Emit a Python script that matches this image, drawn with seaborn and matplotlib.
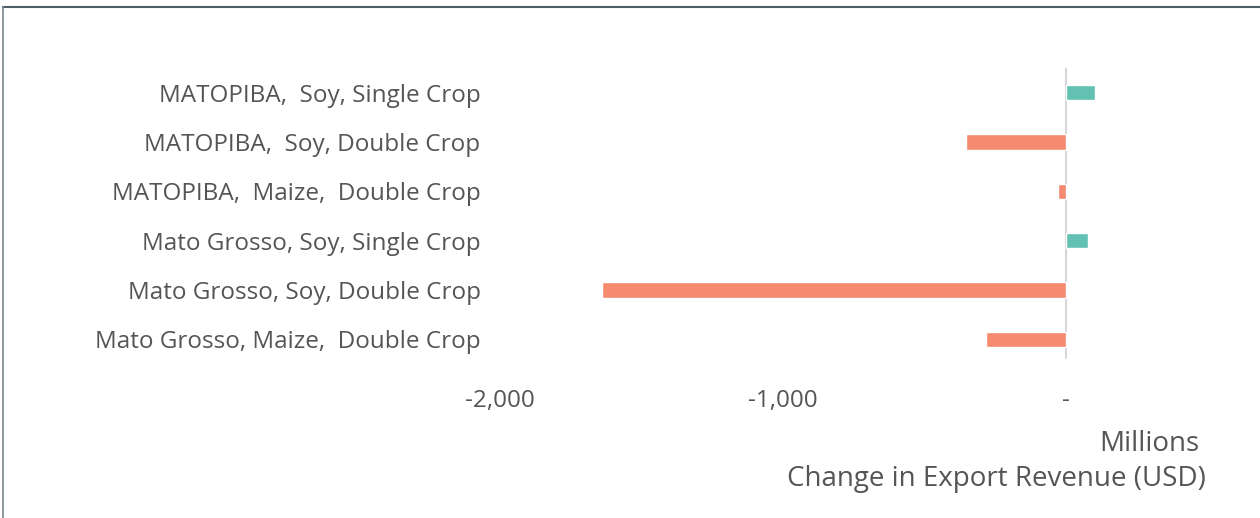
import matplotlib
matplotlib.use("Agg")
import matplotlib.pyplot as plt
import seaborn as sns
import pandas as pd
from matplotlib.lines import Line2D
from matplotlib.ticker import FuncFormatter

categories = [
    "MATOPIBA,  Soy, Single Crop",
    "MATOPIBA,  Soy, Double Crop",
    "MATOPIBA,  Maize,  Double Crop",
    "Mato Grosso, Soy, Single Crop",
    "Mato Grosso, Soy, Double Crop",
    "Mato Grosso, Maize,  Double Crop",
]
values = [105, -353, -28, 80, -1640, -283]
x_ticks = [-2000, -1000, 0]

POS = "#63c1b3"
NEG = "#f58a6f"
TXT = "#555555"

sns.set_theme(style="white")
plt.rcParams["font.family"] = ["Open Sans", "DejaVu Sans"]

df = pd.DataFrame({
    "category": categories,
    "value": values,
    "sign": ["pos" if v >= 0 else "neg" for v in values],
})

fig = plt.figure(figsize=(12.6, 5.18), dpi=100)
ax = fig.add_axes([500 / 1260, 1 - 364 / 518, (1207 - 500) / 1260, (364 - 68) / 518])

sns.barplot(data=df, x="value", y="category", hue="sign",
            palette={"pos": POS, "neg": NEG}, dodge=False, width=0.31,
            legend=False, ax=ax, order=categories, saturation=1)

ax.set_xlim(-2000, 500)
ax.set_ylim(5.5, -0.5)
ax.axvline(0, ymin=0.02, ymax=1, color="#d6d6d6", lw=1.5, zorder=0)
ax.set_xticks(x_ticks)
ax.xaxis.set_major_formatter(FuncFormatter(lambda v, p: "-" if v == 0 else f"{v:,.0f}"))
ax.tick_params(axis="x", length=0, pad=18, labelsize=17.5, labelcolor=TXT)
ax.tick_params(axis="y", length=0, pad=14, labelsize=17.5, labelcolor=TXT)
ax.set_xlabel("")
ax.set_ylabel("")
for s in ax.spines.values():
    s.set_visible(False)

fig.text(1199 / 1260, 1 - 444 / 518, "Millions", ha="right", va="center",
         fontsize=20, color=TXT)
fig.text(1206 / 1260, 1 - 479 / 518, "Change in Export Revenue (USD)", ha="right",
         va="center", fontsize=20, color=TXT)

# frame lines (top and left)
fig.add_artist(Line2D([3 / 1260, 1], [1 - 7 / 518, 1 - 7 / 518], color="#4f5f6a", lw=1.5,
                      transform=fig.transFigure))
fig.add_artist(Line2D([3 / 1260, 3 / 1260], [0, 1 - 7 / 518], color="#7a8790", lw=1.2,
                      transform=fig.transFigure))

fig.savefig("out.png", dpi=100)
